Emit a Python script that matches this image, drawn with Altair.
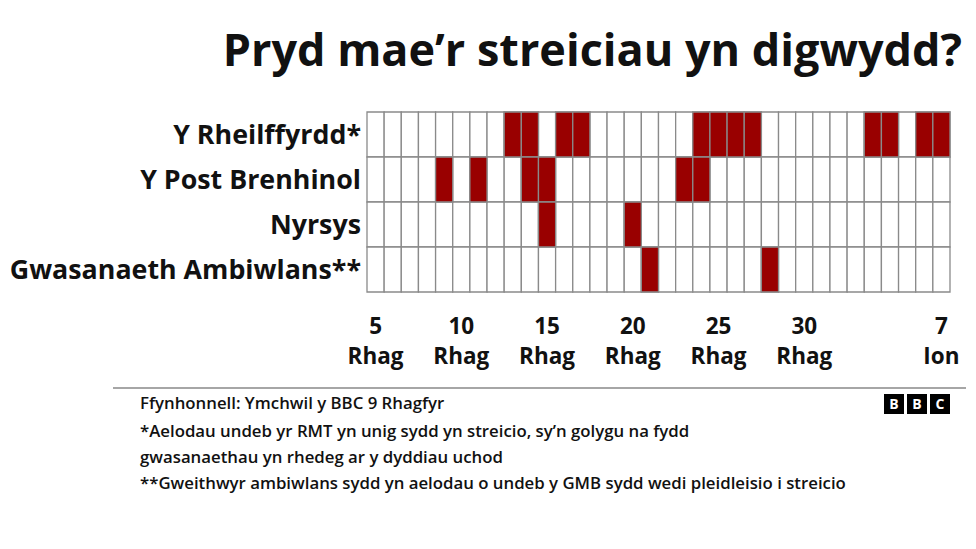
import altair as alt
import pandas as pd

# ---- data ----
rows = ["Y Rheilffyrdd*", "Y Post Brenhinol", "Nyrsys", "Gwasanaeth Ambiwlans**"]
start_date = "2022-12-05"
n_days = 34  # 5 Rhag .. 7 Ion

rail_days = ["2022-12-13", "2022-12-14", "2022-12-16", "2022-12-17",
             "2022-12-24", "2022-12-25", "2022-12-26", "2022-12-27",
             "2023-01-03", "2023-01-04", "2023-01-06", "2023-01-07"]
post_days = ["2022-12-09", "2022-12-11", "2022-12-14", "2022-12-15",
             "2022-12-23", "2022-12-24"]
nurse_days = ["2022-12-15", "2022-12-20"]
ambulance_days = ["2022-12-21", "2022-12-28"]

tick_dates = ["2022-12-05", "2022-12-10", "2022-12-15", "2022-12-20",
              "2022-12-25", "2022-12-30", "2023-01-07"]
tick_day_labels = ["5", "10", "15", "20", "25", "30", "7"]
tick_month_labels = ["Rhag", "Rhag", "Rhag", "Rhag", "Rhag", "Rhag", "Ion"]

title_text = "Pryd mae\u2019r streiciau yn digwydd?"
source_text = "Ffynhonnell: Ymchwil y BBC 9 Rhagfyr"
note_lines = [
    "*Aelodau undeb yr RMT yn unig sydd yn streicio, sy\u2019n golygu na fydd",
    "gwasanaethau yn rhedeg ar y dyddiau uchod",
    "**Gweithwyr ambiwlans sydd yn aelodau o undeb y GMB sydd wedi pleidleisio i streicio",
]
logo_letters = ["B", "B", "C"]

# ---- tables ----
start = pd.Timestamp(start_date)
def offset(d):
    return (pd.Timestamp(d) - start).days

grid = pd.DataFrame([{"row": r, "d": k, "d2": k + 1} for r in rows for k in range(n_days)])
strike_lists = [rail_days, post_days, nurse_days, ambulance_days]
strikes = pd.DataFrame([{"row": r, "d": offset(d), "d2": offset(d) + 1}
                        for r, lst in zip(rows, strike_lists) for d in lst])
ticks = pd.DataFrame({
    "pos": [offset(d) + 0.5 for d in tick_dates],
    "lab": [a + "\n" + b for a, b in zip(tick_day_labels, tick_month_labels)],
})
row_df = pd.DataFrame({"row": rows})

FONT = "Open Sans"
W, H = 583, 180
xscale = alt.Scale(domain=[0, n_days], nice=False, zero=False)
yscale = alt.Scale(domain=rows, paddingInner=0, paddingOuter=0)

base_grid = alt.Chart(grid).mark_rect(
    fill="white", stroke="#8a8a8a", strokeWidth=1.3
).encode(
    x=alt.X("d:Q", scale=xscale, axis=alt.Axis(
        values=[offset(d) + 0.5 for d in tick_dates], labels=False, title=None,
        grid=False, domainColor="black", domainWidth=2.5, tickColor="black",
        tickWidth=1.5, tickSize=10)),
    x2="d2:Q",
    y=alt.Y("row:N", sort=rows, scale=yscale, axis=None),
)

red = alt.Chart(strikes).mark_rect(
    fill="#990000", stroke="#8a8a8a", strokeWidth=1.3
).encode(
    x=alt.X("d:Q", scale=xscale, axis=None),
    x2="d2:Q",
    y=alt.Y("row:N", sort=rows, scale=yscale, axis=None),
)

row_labels = alt.Chart(row_df).mark_text(
    font=FONT, fontSize=26.8, fontWeight="bold", color="#111",
    align="right", baseline="middle", dy=1
).encode(
    x=alt.value(-6),
    y=alt.Y("row:N", sort=rows, scale=yscale, axis=None),
    text="row:N",
)

tick_text = alt.Chart(ticks).mark_text(
    font=FONT, fontSize=22.5, fontWeight="bold", color="#111",
    baseline="middle", lineBreak="\n", lineHeight=30
).encode(
    x=alt.X("pos:Q", scale=xscale, axis=None),
    y=alt.value(215),
    text="lab:N",
)

title = alt.Chart(pd.DataFrame({"t": [title_text]})).mark_text(
    font=FONT, fontSize=45, fontWeight="bold", color="#111",
    align="right", baseline="middle"
).encode(x=alt.value(595), y=alt.value(-60), text="t:N")

sep = alt.Chart(pd.DataFrame({"a": [0]})).mark_rule(
    color="#888", strokeWidth=1.5
).encode(x=alt.value(-254), x2=alt.value(601), y=alt.value(276))

source = alt.Chart(pd.DataFrame({"t": [source_text]})).mark_text(
    font=FONT, fontSize=16.8, fontWeight=600, color="#111",
    align="left", baseline="middle"
).encode(x=alt.value(-227), y=alt.value(292), text="t:N")

notes = alt.Chart(pd.DataFrame({"t": ["\n".join(note_lines)]})).mark_text(
    font=FONT, fontSize=16.8, fontWeight=600, color="#111",
    align="left", baseline="middle", lineBreak="\n", lineHeight=26
).encode(x=alt.value(-227), y=alt.value(320), text="t:N")

logo_layers = []
for i, letter in enumerate(logo_letters):
    x0 = 884 - 367 + i * 23
    df = pd.DataFrame({"t": [letter]})
    logo_layers.append(alt.Chart(df).mark_rect(color="black").encode(
        x=alt.value(x0), x2=alt.value(x0 + 20), y=alt.value(282), y2=alt.value(302)))
    logo_layers.append(alt.Chart(df).mark_text(
        font=FONT, fontSize=14, fontWeight="bold", color="white",
        align="center", baseline="middle"
    ).encode(x=alt.value(x0 + 10), y=alt.value(292.5), text="t:N"))

chart = alt.layer(base_grid, red, row_labels, tick_text, title, sep, source, notes,
                  *logo_layers).properties(
    width=W, height=H,
    autosize=alt.AutoSizeParams(type="none"),
    padding={"left": 359, "top": 104, "right": 16, "bottom": 240},
    background="white",
).configure_view(stroke=None).configure_text(font=FONT)

chart.save("out.html", embed_options={"renderer": "svg", "actions": False})
